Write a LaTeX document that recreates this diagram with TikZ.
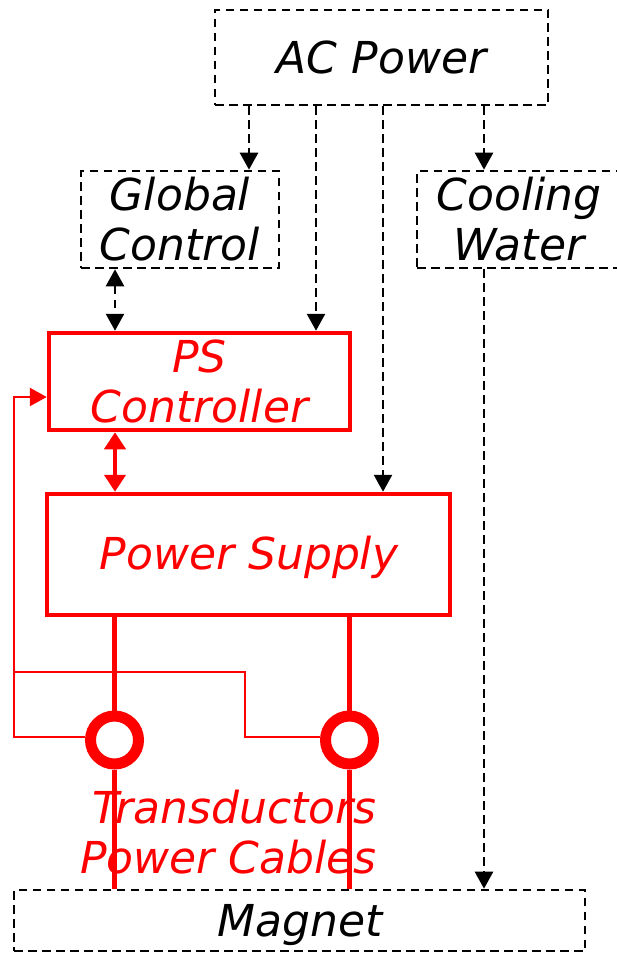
\documentclass[tikz,border=0pt]{standalone}
\usepackage{fontspec}
\setmainfont{DejaVu Sans}
\usetikzlibrary{arrows.meta}
\begin{document}
\begin{tikzpicture}[x=1pt,y=-1pt,
  txt/.style={font=\fontsize{44}{50}\selectfont\itshape, align=center, inner sep=0pt},
  dbox/.style={draw=black, line width=2.6pt, dash pattern=on 8.5pt off 5.5pt, inner sep=0pt, txt},
  rbox/.style={draw=red, line width=4.5pt, inner sep=0pt, text=red, txt},
  darr/.style={draw=black, line width=2.6pt, dash pattern=on 8.5pt off 5.5pt, -{Triangle[length=17pt,width=18pt]}},
  ddarr/.style={darr, {Triangle[length=17pt,width=18pt]}-{Triangle[length=17pt,width=18pt]}},
  rthick/.style={draw=red, line width=4.5pt},
  rthin/.style={draw=red, line width=2.5pt},
  trans/.style={circle, draw=red, fill=white, line width=11pt, minimum size=48pt, inner sep=0pt}
]
\useasboundingbox (0,0) rectangle (617,955);
\clip (0,0) rectangle (617,955);
\fill[white] (0,0) rectangle (617,955);

\node[dbox, minimum width=333pt, minimum height=95pt] (ac) at (381.5,57.5) {AC Power};
\node[dbox, minimum width=198pt, minimum height=97pt] (gc) at (180,219.5) {Global\\Control};
\node[dbox, minimum width=223pt, minimum height=97pt] (cw) at (528.5,219.5) {};
\node[txt] (cwt) at (519,219.5) {Cooling\\Water};
\node[rbox, minimum width=301pt, minimum height=97pt] (psc) at (199.5,381.5) {PS\\Controller};
\node[rbox, minimum width=403pt, minimum height=121pt] (ps) at (248.5,554.5) {};
\node[txt, text=red] (pst) at (249,557) {Power Supply};
\node[dbox, minimum width=571pt, minimum height=61pt] (mag) at (299.5,920.5) {};
\node[txt] (magt) at (300,925) {Magnet};

\node[trans] (t1) at (114.5,740) {};
\node[trans] (t2) at (349.5,740) {};
\node[txt, text=red, align=right, anchor=east] (tl) at (377,832) {Transductors\\Power Cables};

% AC power distribution
\draw[darr] (249,0 |- ac.south) -- (249,0 |- gc.north);
\draw[darr] (316,0 |- ac.south) -- (316,0 |- psc.north);
\draw[darr] (383,0 |- ac.south) -- (383,0 |- ps.north);
\draw[darr] (484,0 |- ac.south) -- (484,0 |- cw.north);
\draw[ddarr] (115,0 |- gc.south) -- (115,0 |- psc.north);
\draw[darr] (484,0 |- cw.south) -- (484,0 |- mag.north);

% PS controller <-> power supply
\draw[rthick, {Triangle[length=17pt,width=21pt]}-{Triangle[length=17pt,width=21pt]}] (115,0 |- psc.south) -- (115,0 |- ps.north);

% cables
\draw[rthick] (t1 |- ps.south) -- (t1.north);
\draw[rthick] (t1.south) -- (t1 |- mag.north);
\draw[rthick] (t2 |- ps.south) -- (t2.north);
\draw[rthick] (t2.south) -- (t2 |- mag.north);

% feedback
\coordinate (fb) at (14,397);
\coordinate (fj) at (14,672);
\coordinate (fk) at (245,672);
\draw[rthin, -{Triangle[length=17pt,width=18pt]}] ([yshift=3pt]t1.west) -| (fb) -- (psc.west |- fb);
\draw[rthin] (fj) -- (fk) |- ([yshift=3pt]t2.west);
\end{tikzpicture}
\end{document}
